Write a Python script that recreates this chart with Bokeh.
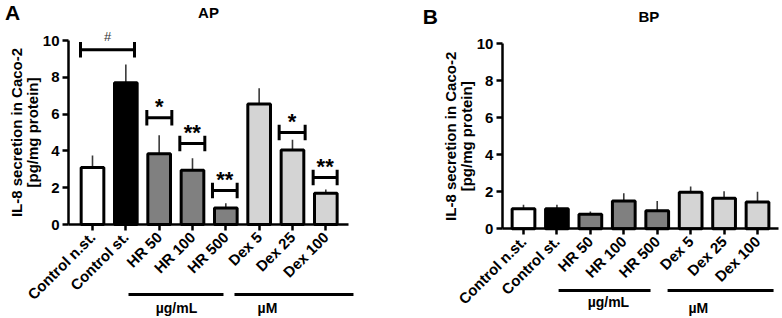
import math
from bokeh.plotting import figure
from bokeh.models import Range1d, FixedTicker, Label, ColumnDataSource
from bokeh.layouts import row
from bokeh.embed import file_html
from bokeh.resources import INLINE

# ---------------- data ----------------
categories = ["Control n.st.", "Control st.", "HR 50", "HR 100", "HR 500",
              "Dex 5", "Dex 25", "Dex 100"]
ap_mean = [3.1, 7.7, 3.85, 2.95, 0.9, 6.55, 4.05, 1.7]
ap_sd = [0.65, 1.0, 1.0, 0.65, 0.25, 0.85, 0.55, 0.2]
bp_mean = [1.08, 1.08, 0.78, 1.5, 0.97, 1.97, 1.65, 1.45]
bp_sd = [0.22, 0.22, 0.16, 0.42, 0.53, 0.31, 0.38, 0.55]
bar_colors = ["#ffffff", "#000000", "#808080", "#808080", "#808080",
              "#d4d4d4", "#d4d4d4", "#d4d4d4"]
y_ticks = [0, 2, 4, 6, 8, 10]

# significance brackets (panel A)
sig_x0 = [-0.36, 1.63, 2.62, 3.60, 5.60, 6.62]
sig_x1 = [1.26, 2.38, 3.37, 4.34, 6.38, 7.34]
sig_y = [9.5, 5.8, 4.4, 1.85, 5.0, 2.55]
sig_text = ["#", "*", "**", "**", "*", "**"]

# unit group lines under the x labels
units = ["µg/mL", "µM"]
a_unit_x0 = [1.08, 4.26]
a_unit_x1 = [3.93, 7.83]
a_unit_text_x = [2.52, 5.25]
b_unit_x0 = [1.05, 4.31]
b_unit_x1 = [3.80, 7.48]
b_unit_text_x = [2.54, 5.23]

FONT = "Liberation Sans"
W, H = 391, 318


def make_panel(mean, sd, x0_px, x_ppu, y0_px, y_ppu, x_bounds):
    # frame covers whole canvas; axes are placed at fixed data locations
    xr = Range1d(-x0_px / x_ppu, (W - x0_px) / x_ppu)
    yr = Range1d(-(H - y0_px) / y_ppu, y0_px / y_ppu)
    p = figure(width=W, height=H, x_range=xr, y_range=yr,
               output_backend="svg", toolbar_location=None,
               min_border=0)
    p.outline_line_color = None
    p.xgrid.visible = False
    p.ygrid.visible = False
    p.background_fill_color = "white"
    p.border_fill_color = "white"

    xs = list(range(len(categories)))
    upper = [m + s for m, s in zip(mean, sd)]
    src = ColumnDataSource(dict(x=xs, top=mean, upper=upper, color=bar_colors))
    # error bars (upper only)
    p.segment(x0="x", y0="top", x1="x", y1="upper", source=src,
              line_color="#3a3a3a", line_width=1.6)
    p.rect(x="x", y="upper", width=0.32, height=0, source=src,
           line_color="#3a3a3a", line_width=1.6, fill_color=None)
    p.vbar(x="x", top="top", bottom=0, width=0.68, source=src,
           fill_color="color", line_color="black", line_width=3)

    for ax in (p.xaxis[0], p.yaxis[0]):
        ax.axis_line_width = 2.5
        ax.axis_line_color = "black"
        ax.major_tick_line_width = 2.5
        ax.major_tick_line_color = "black"
        ax.major_tick_in = 0
        ax.major_tick_out = 6
        ax.minor_tick_line_color = None
        ax.major_label_text_font = FONT
        ax.major_label_text_font_style = "bold"
        ax.major_label_text_color = "black"

    p.yaxis.fixed_location = x_bounds[0]
    p.yaxis.bounds = (0, 10)
    p.yaxis.ticker = FixedTicker(ticks=y_ticks)
    p.yaxis.major_label_standoff = 3
    p.yaxis.major_label_text_font_size = "15px"

    p.xaxis.fixed_location = 0
    p.xaxis.bounds = x_bounds
    p.xaxis.ticker = FixedTicker(ticks=xs)
    p.xaxis.major_label_overrides = {i: c for i, c in enumerate(categories)}
    p.xaxis.major_label_orientation = math.pi / 4
    p.xaxis.major_label_standoff = 4
    p.xaxis.major_label_text_font_size = "15px"

    # y axis title (two lines)
    for txt, off in (("IL-8 secretion in Caco-2", -52), ("[pg/mg protein]", -36)):
        p.add_layout(Label(x=x_bounds[0], y=5, x_offset=off, text=txt, angle=math.pi / 2,
                           text_align="center", text_baseline="middle",
                           text_font=FONT, text_font_style="bold",
                           text_font_size="15px", text_color="black"))
    return p


def add_units(p, x0s, x1s, txs, line_y, text_ys):
    src = ColumnDataSource(dict(x0=x0s, x1=x1s, y=[line_y] * len(x0s)))
    p.segment(x0="x0", y0="y", x1="x1", y1="y", source=src,
              line_color="black", line_width=3)
    for u, tx, ty in zip(units, txs, text_ys):
        p.add_layout(Label(x=tx, y=ty, text=u, text_align="center", text_baseline="middle",
                           text_font=FONT, text_font_style="bold", text_font_size="14px",
                           text_color="black"))


# ---------------- panel A ----------------
pa = make_panel(ap_mean, ap_sd, 92, 33.33, 224, 18.4, (-0.72, 7.68))

bsrc = ColumnDataSource(dict(x0=sig_x0, x1=sig_x1, y=sig_y,
                             ylo=[v - 0.42 for v in sig_y],
                             yhi=[v + 0.42 for v in sig_y]))
pa.segment(x0="x0", y0="y", x1="x1", y1="y", source=bsrc, line_color="black", line_width=3)
pa.segment(x0="x0", y0="ylo", x1="x0", y1="yhi", source=bsrc, line_color="black", line_width=3)
pa.segment(x0="x1", y0="ylo", x1="x1", y1="yhi", source=bsrc, line_color="black", line_width=3)
for x0, x1, y, t in zip(sig_x0, sig_x1, sig_y, sig_text):
    if t == "#":
        pa.add_layout(Label(x=(x0 + x1) / 2, y=y + 0.7, text=t, text_align="center",
                            text_baseline="middle", text_font=FONT,
                            text_font_size="13px", text_color="#333333"))
    else:
        pa.add_layout(Label(x=(x0 + x1) / 2, y=y + 0.6, text=t, text_align="center",
                            text_baseline="middle", text_font=FONT,
                            text_font_style="bold", text_font_size="22px",
                            text_color="black"))

add_units(pa, a_unit_x0, a_unit_x1, a_unit_text_x, -3.81, [-4.52, -4.52])

pa.add_layout(Label(x=-0.72, y=11.5, x_offset=-56, text="A", text_align="center",
                    text_baseline="middle", text_font=FONT, text_font_style="bold",
                    text_font_size="21px", text_color="black"))
pa.add_layout(Label(x=3.48, y=11.5, text="AP", text_align="center",
                    text_baseline="middle", text_font=FONT, text_font_style="bold",
                    text_font_size="15px", text_color="black"))

# ---------------- panel B ----------------
pb = make_panel(bp_mean, bp_sd, 132, 33.43, 228.3, 18.5, (-0.63, 7.63))
add_units(pb, b_unit_x0, b_unit_x1, b_unit_text_x, -3.34, [-3.98, -4.3])
pb.add_layout(Label(x=-0.63, y=11.5, x_offset=-72, text="B", text_align="center",
                    text_baseline="middle", text_font=FONT, text_font_style="bold",
                    text_font_size="21px", text_color="black"))
pb.add_layout(Label(x=3.75, y=11.5, text="BP", text_align="center",
                    text_baseline="middle", text_font=FONT, text_font_style="bold",
                    text_font_size="15px", text_color="black"))

layout = row(pa, pb)
open("out.html", "w").write(file_html(layout, INLINE))
